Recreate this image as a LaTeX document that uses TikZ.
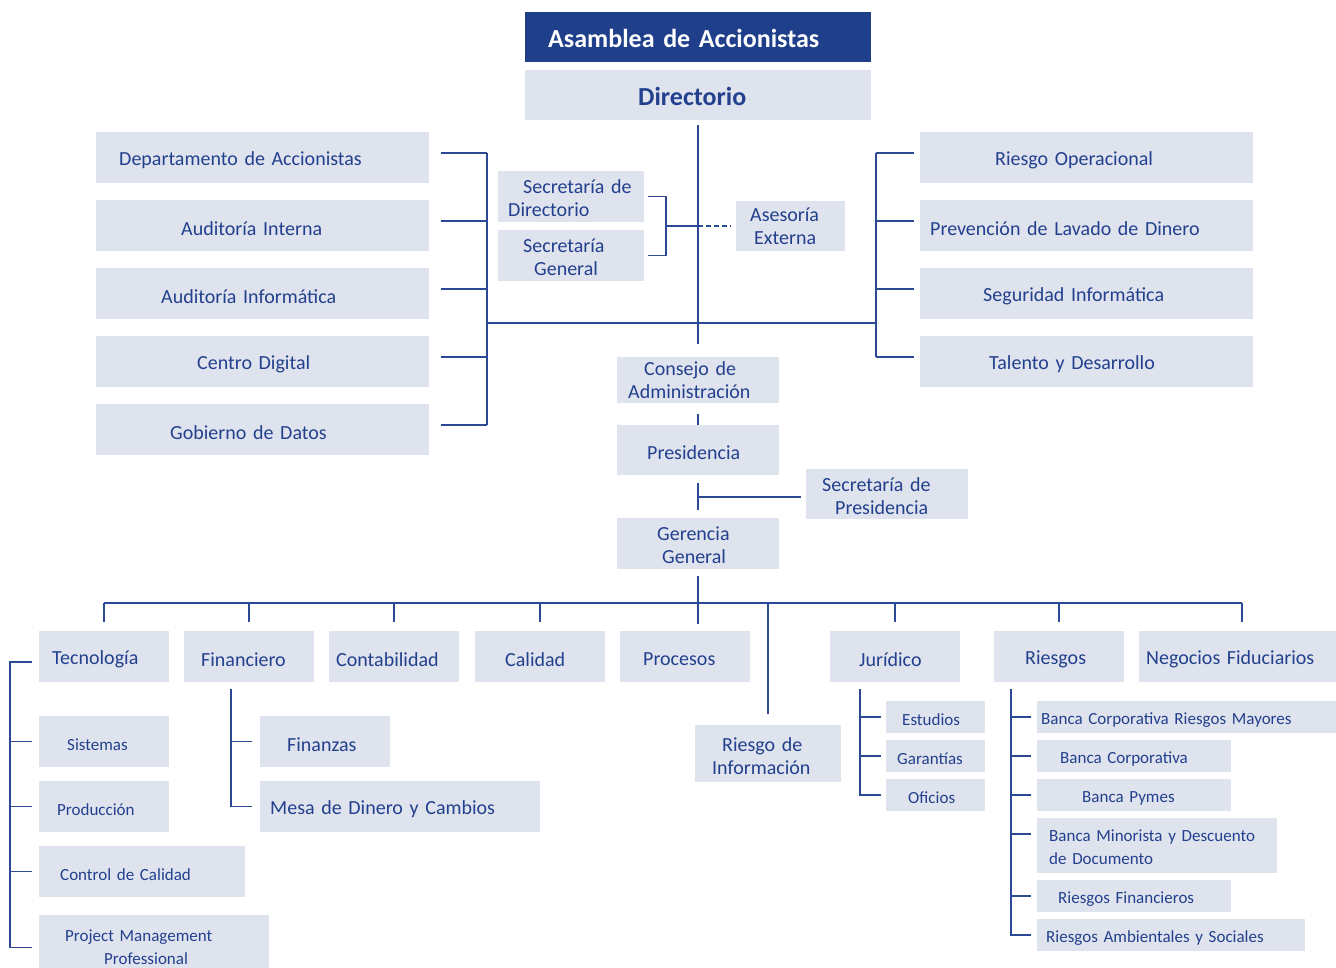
\documentclass[tikz,border=0pt]{standalone}
\usepackage{fontspec}
\setmainfont{Carlito}
\definecolor{navy}{HTML}{203F8A}
\definecolor{boxfill}{HTML}{DFE3EE}
\definecolor{txtc}{HTML}{22408D}
\definecolor{linec}{HTML}{2C4A93}
% \bxl[options]{text offset}{name}{x1}{y1}{x2}{y2}{text}
\newcommand\bxl[8][]{%
  \pgfmathsetmacro\bxw{#6-#4}\pgfmathsetmacro\bxh{#7-#5}%
  \pgfmathsetmacro\bxtw{#6-#4-#2}%
  \pgfmathsetmacro\bxcx{(#4+#6)/2}\pgfmathsetmacro\bxcy{(#5+#7)/2}%
  \pgfmathsetmacro\bxtx{#4+#2}%
  \node[box,minimum width=\bxw pt,minimum height=\bxh pt,#1] (#3) at (\bxcx,\bxcy) {};
  \node[txt,text width=\bxtw pt,#1,txtshift] (#3t) at (\bxtx,\bxcy) {#8};}
\begin{document}
\begin{tikzpicture}[x=1pt,y=-1pt,
  f20/.style={font=\fontsize{20}{23}\selectfont},
  f17/.style={font=\fontsize{17}{23}\selectfont},
  f26b/.style={font=\fontsize{26}{30}\selectfont\bfseries},
  txtshift/.style={yshift=-3pt},
  ts/.style={txtshift/.style={yshift=#1}},
  box/.style={fill=boxfill,inner sep=0pt},
  txt/.style={anchor=west,inner sep=0pt,align=left,text=txtc,f20},
  ln/.style={draw=linec,line width=1.6pt},
  dsh/.style={draw=linec,line width=1.6pt,dash pattern=on 5pt off 3pt}]
\useasboundingbox[fill=white] (0,0) rectangle (1336,967);
% top
\bxl[fill=navy,text=white,f26b,ts=-1pt]{23}{asam}{525}{12}{871}{62}{Asamblea de Accionistas}
\bxl[f26b,ts=-1pt]{113}{dir}{525}{70}{871}{120}{Directorio}
% left column
\bxl{23}{L1}{96}{132}{429}{183}{Departamento de Accionistas}
\bxl{85}{L2}{96}{200}{429}{251}{Auditoría Interna}
\bxl{65}{L3}{96}{268}{429}{319}{Auditoría Informática}
\bxl{101}{L4}{96}{336}{429}{387}{Centro Digital}
\bxl{74}{L5}{96}{404}{429}{455}{Gobierno de Datos}
% right column
\bxl{75}{R1}{920}{132}{1253}{183}{Riesgo Operacional}
\bxl{10}{R2}{920}{200}{1253}{251}{Prevención de Lavado de Dinero}
\bxl{63}{R3}{920}{268}{1253}{319}{Seguridad Informática}
\bxl{69}{R4}{920}{336}{1253}{387}{Talento y Desarrollo}
% secretarias
\bxl[ts=-2pt]{10}{sd}{498}{171}{644}{222}{\hspace*{15pt}Secretaría de\\Directorio}
\bxl[ts=-2pt]{25}{sg}{498}{230}{644}{281}{Secretaría\\\hspace*{11pt}General}
\bxl[ts=0pt]{14}{ae}{736}{201}{845}{251}{Asesoría\\\hspace*{4pt}Externa}
% chain
\bxl[ts=0pt]{11}{cons}{617}{357}{779}{403}{\hspace*{16pt}Consejo de\\Administración}
\bxl{30}{pres}{617}{425}{779}{475}{Presidencia}
\bxl[ts=-2pt]{16}{sp}{806}{469}{968}{519}{Secretaría de\\\hspace*{13pt}Presidencia}
\bxl[ts=-2pt]{40}{ger}{617}{518}{779}{569}{Gerencia\\\hspace*{5pt}General}
% bottom row
\bxl{13}{tec}{39}{631}{169}{682}{Tecnología}
\bxl{17}{fin}{184}{631}{314}{682}{Financiero}
\bxl{7}{cont}{329}{631}{459}{682}{Contabilidad}
\bxl{30}{cal}{475}{631}{605}{682}{Calidad}
\bxl{23}{proc}{620}{631}{750}{682}{Procesos}
\bxl{29}{jur}{830}{631}{960}{682}{Jurídico}
\bxl{31}{rie}{994}{631}{1124}{682}{Riesgos}
\bxl{7}{neg}{1139}{631}{1336}{682}{Negocios Fiduciarios}
\bxl{17}{rinf}{695}{725}{841}{782}{\hspace*{10pt}Riesgo de\\Información}
% tecnologia subs
\bxl[f17]{28}{sis}{39}{716}{169}{767}{Sistemas}
\bxl[f17]{18}{prod}{39}{781}{169}{832}{Producción}
\bxl[f17]{21}{ctrl}{39}{846}{245}{897}{Control de Calidad}
\bxl[f17,ts=0pt]{26}{pmp}{39}{915}{269}{980}{Project Management\\\hspace*{39pt}Professional}
% financiero subs
\bxl{27}{fnz}{260}{716}{390}{767}{Finanzas}
\bxl{10}{mesa}{260}{781}{540}{832}{Mesa de Dinero y Cambios}
% juridico subs
\bxl[f17]{16}{est}{886}{701}{985}{733}{Estudios}
\bxl[f17]{11}{gar}{886}{740}{985}{772}{Garantías}
\bxl[f17]{22}{ofi}{886}{779}{985}{811}{Oficios}
% riesgos subs
\bxl[f17]{4}{b1}{1037}{701}{1336}{733}{Banca Corporativa Riesgos Mayores}
\bxl[f17]{23}{b2}{1037}{740}{1231}{772}{Banca Corporativa}
\bxl[f17]{45}{b3}{1037}{779}{1231}{811}{Banca Pymes}
\bxl[f17,ts=-2pt]{12}{b4}{1037}{818}{1277}{873}{Banca Minorista y Descuento\\de Documento}
\bxl[f17]{21}{b5}{1037}{880}{1231}{912}{Riesgos Financieros}
\bxl[f17]{9}{b6}{1037}{919}{1305}{951}{Riesgos Ambientales y Sociales}

% ---- connectors ----
\coordinate (lbar) at (487,323);
\coordinate (rbar) at (876,323);
\foreach \n in {L1,L2,L3,L4,L5}{
  \path ([yshift=4.5pt]\n.east) coordinate (t);
  \draw[ln] ([xshift=12pt]t) -- (t -| lbar);}
\path ([yshift=4.5pt]L1.east) coordinate (lt);
\path ([yshift=4.5pt]L5.east) coordinate (lb);
\draw[ln] (lt -| lbar) -- (lb -| lbar);
\foreach \n in {R1,R2,R3,R4}{
  \path ([yshift=4.5pt]\n.west) coordinate (t);
  \draw[ln] ([xshift=-6pt]t) -- (t -| rbar);}
\path ([yshift=4.5pt]R1.west) coordinate (rt);
\path ([yshift=4.5pt]R4.west) coordinate (rb);
\draw[ln] (rt -| rbar) -- (rb -| rbar);
\draw[ln] (lbar) -- (rbar);
% central spine
\draw[ln] ([yshift=-5pt]dir.south) -- ([yshift=13pt]cons.north);
% secretarias bracket
\coordinate (sj) at (666,226);
\draw[ln] ([xshift=4pt]sd.east) -| (sj);
\draw[ln] ([xshift=4pt]sg.east) -| (sj);
\draw[ln] (sj) -- (sj -| dir.south);
\draw[dsh] (sj -| dir.south) -- ([xshift=-5pt]ae.west);
% chain
\draw[ln] ([yshift=-11pt]cons.south) -- (pres.north);
\draw[ln] ([yshift=-8pt]pres.south) -- ([yshift=8pt]ger.north);
\path ([xshift=-5pt,yshift=-3pt]sp.west) coordinate (spj);
\draw[ln] (spj) -- (spj -| ger.north);
% bus
\coordinate (busy) at (0,603);
\coordinate (dropy) at (0,622);
\coordinate (negd) at (1242,603);
\draw[ln] (tec.north |- busy) -- (negd);
\draw[ln] (negd) -- (negd |- dropy);
\foreach \n in {tec,fin,cont,cal,jur,rie}
  \draw[ln] (\n.north |- busy) -- (\n.north |- dropy);
\draw[ln] ([yshift=-7pt]ger.south) -- ([yshift=-2pt]ger.south |- dropy);
\draw[ln] (rinf.north |- busy) -- ([yshift=11pt]rinf.north);
% tecnologia bracket
\coordinate (tb) at (10,0);
\path ([xshift=-7pt,yshift=-5.5pt]tec.west) coordinate (tt1);
\path ([xshift=-7pt]pmp.west) coordinate (tt5);
\draw[ln] (tt1) -- (tt1 -| tb) -- (tt5 -| tb) -- (tt5);
\foreach \n in {sis,prod,ctrl}
  \draw[ln] ([xshift=-7pt]\n.west) -- (\n.west -| tb);
% financiero bracket
\coordinate (fb) at (231,689);
\draw[ln] (fb) |- ([xshift=-8pt]mesa.west);
\draw[ln] ([xshift=-8pt]fnz.west) -- (fnz.west -| fb);
% juridico bracket
\coordinate (jb) at (860,689);
\draw[ln] (jb) |- ([xshift=-5pt]ofi.west);
\foreach \n in {est,gar}
  \draw[ln] ([xshift=-5pt]\n.west) -- (\n.west -| jb);
% riesgos bracket
\coordinate (rjb) at (1011,689);
\draw[ln] (rjb) |- ([xshift=-6pt]b6.west);
\foreach \n in {b1,b2,b3,b5}
  \draw[ln] ([xshift=-6pt]\n.west) -- (\n.west -| rjb);
\path ([xshift=-6pt,yshift=11.5pt]b4.west) coordinate (b4t);
\draw[ln] (b4t) -- (b4t -| rjb);
\end{tikzpicture}
\end{document}
